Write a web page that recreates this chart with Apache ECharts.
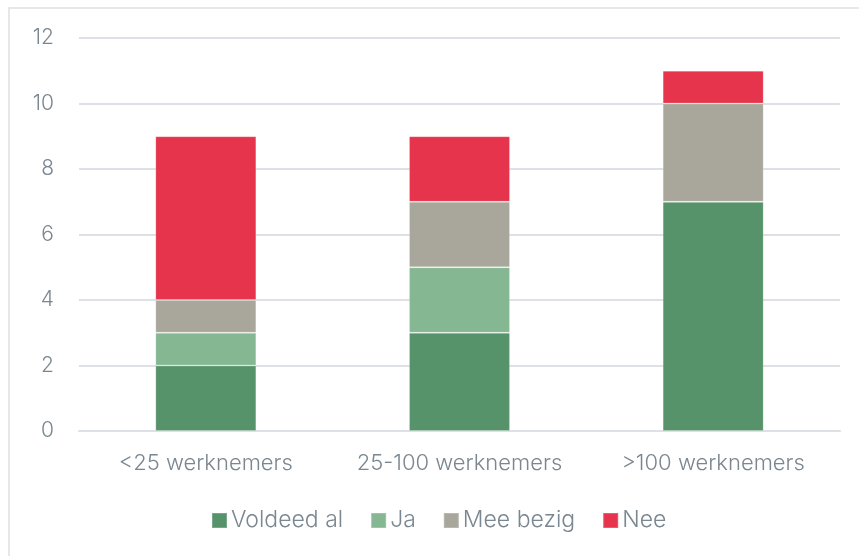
<!DOCTYPE html>
<html>
<head>
<meta charset="utf-8">
<script src="https://cdn.jsdelivr.net/npm/echarts@6/dist/echarts.min.js"></script>
<style>
  html, body { margin: 0; padding: 0; background: #fff; }
  #chart { width: 859px; height: 556px; }
</style>
</head>
<body>
<div id="chart"></div>
<script>
// categories and stacked values
var categories = ['<25 werknemers', '25-100 werknemers', '>100 werknemers'];
var seriesNames = ['Voldeed al', 'Ja', 'Mee bezig', 'Nee'];
var voldeedAl = [2, 3, 7];
var ja = [1, 2, 0];
var meeBezig = [1, 2, 3];
var nee = [5, 2, 1];
var yTicks = [0, 2, 4, 6, 8, 10, 12];

var colors = ['#56936a', '#85b792', '#a9a79b', '#e5344b'];
var textColor = '#7a8790';
var fontFamily = 'Inter, sans-serif';

var myChart = echarts.init(document.getElementById('chart'));

function bar(name, data, i) {
	return {
		name: name,
		type: 'bar',
		stack: 'total',
		barWidth: 101,
		data: data,
		itemStyle: {
			color: colors[i],
			borderColor: 'rgba(255,255,255,0.2)',
			borderWidth: 1
		}
	};
}

var option = {
	animation: false,
	color: colors,
	textStyle: { fontFamily: fontFamily },
	graphic: [{
		type: 'rect',
		shape: { x: 9, y: 8, width: 870, height: 570 },
		style: { fill: 'none', stroke: '#dde1e5', lineWidth: 1.5 },
		silent: true
	}],
	grid: { left: 79, right: 19, top: 38, bottom: 125, containLabel: false },
	legend: {
		data: seriesNames,
		top: 504,
		left: 206,
		itemWidth: 15,
		itemHeight: 15,
		itemGap: 27,
		icon: 'rect',
		textStyle: { color: textColor, fontSize: 23, fontWeight: 300, fontFamily: fontFamily, padding: [0, 0, 0, -1] }
	},
	xAxis: {
		type: 'category',
		data: categories,
		axisLine: { show: true, lineStyle: { color: '#dde1e5', width: 2 } },
		axisTick: { show: false },
		axisLabel: { interval: 0, color: textColor, fontSize: 22, fontWeight: 300, margin: 21, fontFamily: fontFamily }
	},
	yAxis: {
		type: 'value',
		min: yTicks[0],
		max: yTicks[yTicks.length - 1],
		interval: 2,
		axisLine: { show: false },
		axisTick: { show: false },
		splitLine: { lineStyle: { color: '#dde1e5', width: 2 } },
		axisLabel: { color: textColor, fontSize: 21, fontWeight: 300, margin: 25, fontFamily: fontFamily }
	},
	series: [
		bar(seriesNames[0], voldeedAl, 0),
		bar(seriesNames[1], ja, 1),
		bar(seriesNames[2], meeBezig, 2),
		bar(seriesNames[3], nee, 3)
	]
};

myChart.setOption(option, true);
</script>
</body>
</html>
